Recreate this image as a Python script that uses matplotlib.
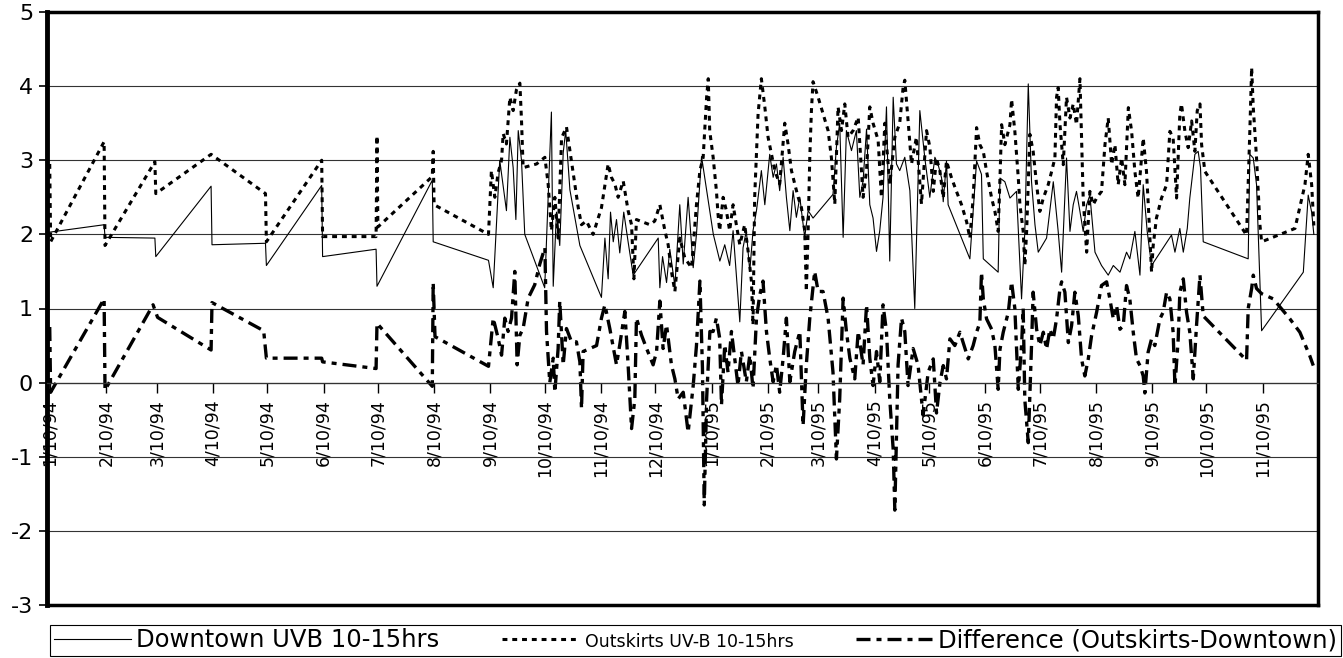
import matplotlib
matplotlib.use('Agg')
import matplotlib.pyplot as plt
import pandas as pd
from matplotlib.lines import Line2D

plt.rcParams['font.family'] = ['DejaVu Sans']
plt.rcParams['axes.unicode_minus'] = False

# --- data (days since 10 Jan 1994, UV-B values) ---
start = pd.Timestamp('1994-01-10')

tick_labels = ['1/10/94', '2/10/94', '3/10/94', '4/10/94', '5/10/94', '6/10/94',
               '7/10/94', '8/10/94', '9/10/94', '10/10/94', '11/10/94', '12/10/94',
               '1/10/95', '2/10/95', '3/10/95', '4/10/95', '5/10/95', '6/10/95',
               '7/10/95', '8/10/95', '9/10/95', '10/10/95', '11/10/95']

# Downtown UVB 10-15hrs
dt_day = [0, 30, 30.5, 58, 58.5, 89, 89.5, 119, 119.5, 150, 150.5, 180, 180.5, 211, 211.5, 242,
          244.6, 248.2, 251.9, 253.8, 255.6, 257.1, 258.4, 260.2, 262, 273, 274.9, 276.7, 277.7,
          279.5, 281.3, 283.2, 284.6, 286.9, 292.4, 304.3, 306.2, 308, 309.3, 310.8, 312.6, 314.4,
          316.6, 319, 321.8, 335.6, 336.5, 338, 340.2, 342, 344.8, 347.5, 349.4, 352.1, 354.9,
          356.7, 359.5, 362.3, 366, 369.6,
          372.3, 375, 376.9, 378.7, 380.6, 382.4, 384.2, 386.1, 387.9, 389.8, 392.5, 394.4, 397.1,
          399, 400.8, 402.6, 404.5, 406.3, 408.2, 410, 411.8, 413.7, 416.4, 418.3, 421, 432, 433.9,
          435.7, 437.6, 439.4, 442.2, 444.9, 446.8, 448.6, 450.5, 452.3, 454.1, 456, 457.8, 459.6,
          461.5, 463.3, 465.2, 467, 468.8, 471.6, 474.4, 477.1, 479.9, 482.6, 485.4,
          488.2, 490, 491.9, 492.8, 494.6, 495.5, 507.5, 511.2, 513.9, 514.9, 523.1, 524.1, 526.8,
          529.6, 533.2, 536, 537.8, 539.7, 541.5, 543.4, 545.2, 549.8, 553.5, 556.2, 558.1, 560.8,
          562.7, 564.5, 566.3, 568.2, 570, 571.9, 573.7, 576.5, 580.1, 583.8, 586.6, 590.3, 593.9,
          595.7, 598.5, 601.3, 603.1, 605.3, 607.7, 618.7, 620.6, 623.3, 625.2, 627.4, 628.8, 631.6,
          633.4, 634.7, 636.2, 661, 661.9, 663.8, 665.6, 668.4, 691.4, 694.1, 696, 697.2]
dt_val = [2.03, 2.13, 1.96, 1.95, 1.70, 2.65, 1.86, 1.88, 1.58, 2.66, 1.70, 1.80, 1.30, 2.73, 1.90, 1.65,
          1.28, 3.0, 2.32, 3.31, 2.9, 2.2, 3.4, 3.0, 2.0, 1.28, 2.5, 3.65, 1.3,
          2.3, 1.85, 3.1, 3.4, 2.6, 1.85, 1.15, 1.95, 1.4, 2.3, 1.9, 2.2, 1.75,
          2.3, 1.9, 1.45, 1.95, 1.28, 1.7, 1.35, 1.8, 1.3, 2.4, 1.6, 2.5, 1.55,
          2.0, 3.05, 2.6, 2.0, 1.64,
          1.86, 1.58, 2.05, 1.46, 0.82, 1.82, 2.05, 1.5, 2.05, 2.32, 2.86, 2.4, 3.08,
          2.77, 2.95, 2.59, 3.04, 2.5, 2.05, 2.59, 2.23, 2.5, 1.96, 2.32, 2.22, 2.54, 3.18,
          3.5, 1.96, 3.4, 3.13, 3.4, 2.5, 2.72, 3.42, 2.4, 2.22, 1.77, 2.05, 2.5,
          3.72, 1.64, 3.85, 2.95, 2.86, 3.04, 2.59, 1.0, 3.67, 3.04, 2.5,
          3.04, 2.94, 2.76, 2.44, 2.99, 2.4, 1.67, 2.99, 2.81, 1.67, 1.49, 2.76, 2.71,
          2.49, 2.58, 1.13, 2.04, 4.03, 2.71, 2.13, 1.76, 1.95, 2.71, 2.04, 1.49, 3.03,
          2.04, 2.4, 2.58, 2.31, 2.04, 2.4, 2.53, 1.76, 1.58, 1.45, 1.58, 1.49, 1.76,
          1.67, 2.04, 1.45, 2.67, 2.04, 1.58, 1.99, 1.76, 2.08, 1.76, 2.08, 2.49, 3.08,
          3.12, 2.9, 1.9, 1.67, 3.08, 3.03, 2.67, 0.7, 1.49, 2.53, 2.3, 2.0]

# Outskirts UV-B 10-15hrs
os_day = [0, 0.5, 30, 30.5, 58, 58.5, 89, 119, 119.5, 150, 150.5, 180, 180.5, 181, 211, 211.5, 212, 242,
          243.6, 245.5, 247.3, 249.2, 250.1, 251.9, 253.8, 255.6, 257.4, 259.3, 260.2, 261.1, 268.5,
          273.1, 274.9, 276.7, 278.6, 280.4, 282.3, 285, 286.9, 289.6, 291.5, 293.3, 296, 299.7,
          304.3, 308, 309.8, 311.7, 313.5, 316.3, 319, 320.9, 322.2, 323.6, 331, 333.7, 336.5,
          339.3, 341.1, 342.9, 344.8, 347.5, 350.3, 354, 356.7, 358.6, 360.4, 362.3, 363.2,
          364, 365.9, 367.7, 368.6, 369.5, 371.4, 373.2, 375, 376.9, 378.7, 380.6, 383.3, 385.2,
          387, 387.9, 388.8, 390.7, 392.5, 394.4, 396.2, 398, 399.9, 402.6, 405.4, 407.2, 409.1,
          410.9, 412.8, 414.6, 416.4, 417.3, 418.3, 419.2, 420.1, 421, 423.8, 426.5, 429.3, 431.1,
          433, 434.8, 436.7, 438.5, 440.3, 443.1, 445.9, 448.6, 450.5, 452.3, 454.1, 456.9, 458.7,
          460.6, 463.3, 466.1, 468.8, 470.7, 471.6, 473.4, 475.3, 478, 480.8, 483.6, 485.4,
          487.3, 489.1, 491, 492.8, 494.6, 497.4, 500.1, 502.9, 505.7, 507.5, 509.3, 511.2, 513,
          514.9, 516.7, 519.5, 521.3, 523.1, 524.1, 525, 526.8, 529.6, 530.5, 532.3, 534.2, 535.1,
          536.9, 537.8, 538.8, 540.6, 542.4, 544.3, 546.1, 548, 550.7, 552.6, 554.4, 555.3, 556.2,
          557.2, 559, 560.8, 562.7, 564.5, 566.3, 568.2, 569.1, 570, 571.9, 573.7, 575.5, 577.4,
          580.1, 582, 583.8, 585.7, 587.5, 589.3, 591.2, 593, 594.9,
          596.7, 598.5, 600.3, 603.1, 604.9, 605.9, 606.8, 607.7, 608.6, 610.4, 613.2, 616, 617.8,
          619.6, 621.5, 623.3, 624.2, 626.1, 627.9, 629.8, 631.6, 632.9, 634.4, 635.3, 637.1,
          660.1, 661.9, 662.9, 663.8, 665.6, 667.5, 668.4, 686.8, 692.3, 694.1, 696, 697.2]
os_val = [2.95, 1.9, 3.25, 1.85, 2.98, 2.55, 3.08, 2.55, 1.9, 3.0, 1.97, 1.97, 3.33, 2.1, 2.78, 3.12, 2.4, 2.0,
          2.86, 2.5, 2.83, 3.0, 3.36, 3.22, 3.85, 3.67, 3.95, 4.04, 3.54, 2.9, 2.95,
          3.04, 2.68, 2.05, 2.5, 1.95, 3.3, 3.45, 3.13, 2.68, 2.36, 2.13, 2.18, 2.0,
          2.36, 2.95, 2.77, 2.68, 2.5, 2.72, 2.32, 2.13, 1.4, 2.2, 2.13, 2.18, 2.4,
          2.05, 1.86, 1.5, 1.23, 1.95, 1.68, 1.55, 2.4, 2.86, 3.04, 3.85, 4.1,
          3.4, 3.04, 2.59, 2.27, 2.05, 2.5, 2.32, 2.05, 2.4, 2.13, 1.86, 2.13, 1.77,
          1.37, 0.78, 2.5, 3.63, 4.1, 3.72, 3.31, 3.09, 2.86, 2.68, 3.5, 3.22, 2.86,
          2.68, 2.5, 2.36, 2.05, 1.23, 2.05, 3.04, 3.67, 4.06, 3.85, 3.63, 3.4, 3.04,
          2.41, 3.72, 3.4, 3.76, 3.31, 3.4, 3.58, 2.5, 2.86, 3.72, 3.5, 3.27, 2.5,
          3.5, 2.68, 3.31, 3.5, 3.99, 4.08, 3.54, 2.95, 3.31, 2.41, 3.4, 3.18,
          2.58, 3.03, 2.85, 2.49, 2.99, 2.76, 2.58, 2.4, 2.17, 1.95, 2.49, 3.44, 3.21,
          3.12, 2.85, 2.49, 2.31, 2.04, 2.76, 3.48, 3.21, 3.48, 3.82, 3.39, 2.76, 2.4,
          2.04, 1.58, 2.04, 3.35, 3.12, 2.67, 2.31, 2.49, 2.67, 2.85, 3.03, 3.85, 3.98,
          3.48, 2.94, 3.85, 3.57, 3.76, 3.48, 4.1, 3.3, 2.49, 1.76, 2.58, 2.4, 2.49,
          2.58, 3.21, 3.57, 2.94, 3.21, 2.67, 3.03, 2.67, 3.71,
          3.39, 2.85, 2.49, 3.3, 2.85, 2.4, 1.95, 1.49, 1.85, 2.22, 2.49, 2.67, 3.39,
          3.3, 2.49, 3.62, 3.76, 3.39, 3.17, 3.53, 3.12, 3.67, 3.76, 3.21, 2.85,
          1.99, 3.39, 4.25, 3.71, 3.03, 2.12, 1.9, 2.08, 2.67, 3.08, 2.67, 2.12]

# Difference (Outskirts-Downtown)
df_day = [0, 0.5, 30, 30.5, 57, 59.5, 89, 89.5, 118, 119.5, 150, 150.5, 180, 180.5, 211, 211.5, 212.5, 242,
          244.6, 247.3, 249.2, 251, 252.8, 254.7, 256.5, 257.8, 259.3, 261.1, 263.9, 267.5, 270.3,
          273.1, 274, 275.8, 277.7, 278.6, 280.4, 281.3, 283.2, 285, 287.8, 290.5, 292.4, 293.3,
          294.2, 297.9, 301.6, 304.3, 306.2, 308.9, 312.6, 314.4, 317.2, 319, 320.9, 322.7, 323.6,
          326.4, 329.2, 332.8, 334.7, 336.5, 338.3, 340.2, 342.9, 344.8, 346.6, 349.4, 352.1,
          354.9, 356.7, 358.6, 360, 361, 362.3, 364.1,
          365.9, 367.7, 369.5, 370.5, 372.3, 374.1, 376, 377.8, 379.6, 381.5, 384.2, 386.1, 387.9,
          389.8, 391.6, 393.4, 395.3, 397.1, 399, 400.8, 402.6, 404.5, 406.3, 408.2, 410.9, 413.7,
          415.5, 417.3, 419.2, 421.9, 423.8, 426.5, 429.3, 432, 433.9, 435.7, 437.6, 439.4, 441.3,
          444, 445.9, 448.6, 450.5, 452.3, 454.1, 456, 457.8, 459.6, 461.5, 463.3, 465.2, 466.1,
          467.9, 469.8, 471.6, 473.4, 476.2, 478.9, 481.7, 484.5,
          487.3, 489.1, 491, 492.8, 494.6, 496.5, 499.2, 502, 506.6, 509.3, 511.2, 513, 513.9,
          514.9, 516.7, 519.5, 521.3, 523.1, 524.1, 525.9, 528.7, 530.5, 532.3, 534.2, 536, 536.9,
          537.8, 539.7, 541.5, 542.4, 544.3, 546.1, 548, 549.8, 551.6, 553.5, 555.3, 557.2, 558.1,
          559.9, 561.8, 563.6, 565.4, 567.3, 569.1, 570.9, 572.8, 574.6, 577.4, 580.1, 582.9,
          584.7, 586.6, 588.4, 590.3, 592.1, 593.9,
          595.7, 597.6, 599.4, 601.3, 603.1, 604, 605.8, 607.7, 609.5, 612.3, 614.1, 616, 617.8,
          619.6, 620.6, 622.4, 623.3, 625.2, 627, 628.8, 630.7, 632.5, 634.4, 636.2, 660.1, 661,
          662.9, 663.8, 665.6, 668.4, 674.8, 684, 689.5, 695, 696.9]
df_val = [0.75, -0.13, 1.13, -0.1, 1.05, 0.88, 0.44, 1.08, 0.7, 0.33, 0.33, 0.28, 0.19, 0.8, -0.05, 1.35, 0.62, 0.22,
          0.87, 0.6, 0.37, 0.87, 0.69, 0.87, 1.5, 0.24, 0.64, 0.73, 1.14, 1.32, 1.6,
          1.82, 0.69, 0.0, 0.33, -0.13, 0.46, 1.1, 0.24, 0.73, 0.55, 0.55, 0.28, -0.35,
          0.42, 0.46, 0.5, 0.87, 1.05, 0.73, 0.24, 0.51, 0.96, 0.24, -0.62, -0.22, 0.87,
          0.64, 0.46, 0.24, 0.42, 1.1, 0.46, 0.78, 0.24, 0.05, -0.22, -0.13, -0.67,
          -0.04, 0.5, 1.37, 0.2, -1.65, -0.22, 0.69,
          0.69, 0.87, 0.6, -0.3, 0.51, 0.14, 0.69, 0.33, -0.04, 0.42, 0.01, 0.37, -0.08,
          0.87, 1.18, 1.37, 0.69, 0.33, 0.01, 0.24, -0.13, 0.33, 0.87, 0.01, 0.42, 0.69,
          -0.58, 0.24, 0.87, 1.5, 1.23, 1.23, 0.87, 0.14, -1.03, -0.22, 1.14, 0.69, 0.33,
          0.05, 0.69, 0.24, 1.05, 0.33, -0.04, 0.42, 0.01, 1.05, 0.69, -0.22, -0.9, -1.72,
          0.24, 0.87, 0.69, -0.04, 0.46, 0.24, -0.44, 0.14,
          0.32, -0.41, 0.0, 0.23, 0.05, 0.59, 0.5, 0.68, 0.32, 0.5, 0.68, 0.81, 1.49,
          1.13, 0.86, 0.72, 0.5, -0.09, 0.45, 0.68, 0.95, 1.36, 1.0, -0.09, 0.5, 1.0,
          -0.23, -0.81, 0.5, 1.22, 0.72, 0.5, 0.68, 0.45, 0.72, 0.59, 0.86, 1.27, 1.36,
          1.22, 0.54, 0.77, 1.22, 0.9, 0.32, 0.09, 0.32, 0.63, 0.95, 1.31, 1.36,
          1.13, 0.86, 1.04, 0.72, 0.77, 1.31,
          1.13, 0.68, 0.32, 0.23, 0.09, -0.14, 0.41, 0.59, 0.5, 0.86, 0.95, 1.22, 1.13,
          0.68, -0.05, 0.59, 1.22, 1.4, 0.95, 0.68, 0.05, 0.77, 1.45, 0.9, 0.3, 1.0,
          1.27, 1.45, 1.27, 1.2, 1.13, 0.86, 0.68, 0.36, 0.23]


def to_dates(days):
    return start + pd.to_timedelta(days, unit='D')


fig = plt.figure(figsize=(13.43, 6.58), dpi=100)
ax = fig.add_axes([47 / 1343, 1 - 605 / 658, (1318 - 47) / 1343, (605 - 12) / 658])

l1, = ax.plot(to_dates(dt_day), dt_val, color='black', lw=0.8, label='Downtown UVB 10-15hrs')
l2, = ax.plot(to_dates(os_day), os_val, color='black', lw=2.2, dashes=(1.6, 1.6),
              label='Outskirts UV-B 10-15hrs')
l3, = ax.plot(to_dates(df_day), df_val, color='black', lw=2.4, dashes=(4.2, 1.8, 1.5, 1.8),
              label='Difference (Outskirts-Downtown)')

ax.set_ylim(-3, 5)
ax.set_yticks(range(-3, 6))
ax.set_xlim(start - pd.Timedelta(days=1.5), start + pd.Timedelta(days=699.5))
ax.set_xticks(pd.to_datetime(tick_labels, format='%m/%d/%y'))
ax.set_xticklabels(tick_labels)

ax.yaxis.grid(True, color='#333333', lw=0.8)
ax.set_axisbelow(True)

ax.spines['bottom'].set_position(('data', 0))
ax.spines['bottom'].set_linewidth(0.9)
ax.spines['bottom'].set_color('#333333')
ax.spines['left'].set_linewidth(3.5)
ax.spines['top'].set_linewidth(2.5)
ax.spines['right'].set_linewidth(2.5)
ax.add_line(Line2D([0, 1], [0, 0], transform=ax.transAxes, color='black', lw=2.5, clip_on=False))

ax.tick_params(axis='x', direction='out', length=7, width=1, pad=5, labelsize=12.5,
               labelrotation=90)
ax.tick_params(axis='y', direction='out', length=6, width=1.2, pad=4, labelsize=16)
for t in ax.get_xticklabels():
    t.set_verticalalignment('top')
    t.set_horizontalalignment('center')

leg = ax.legend(handles=[l1, l2, l3], loc='lower left', ncol=3, mode='expand',
                bbox_to_anchor=(50 / 1343, 0.003, (1341 - 50) / 1343, 34 / 658),
                bbox_transform=fig.transFigure, borderaxespad=0, fontsize=17.5,
                handlelength=3.2, handletextpad=0.2, columnspacing=0.5,
                frameon=True, fancybox=False, framealpha=1, borderpad=0.15)
leg.get_frame().set_edgecolor('black')
leg.get_frame().set_linewidth(0.8)
leg.get_texts()[1].set_fontsize(12.5)

fig.savefig('out.png', dpi=100)
